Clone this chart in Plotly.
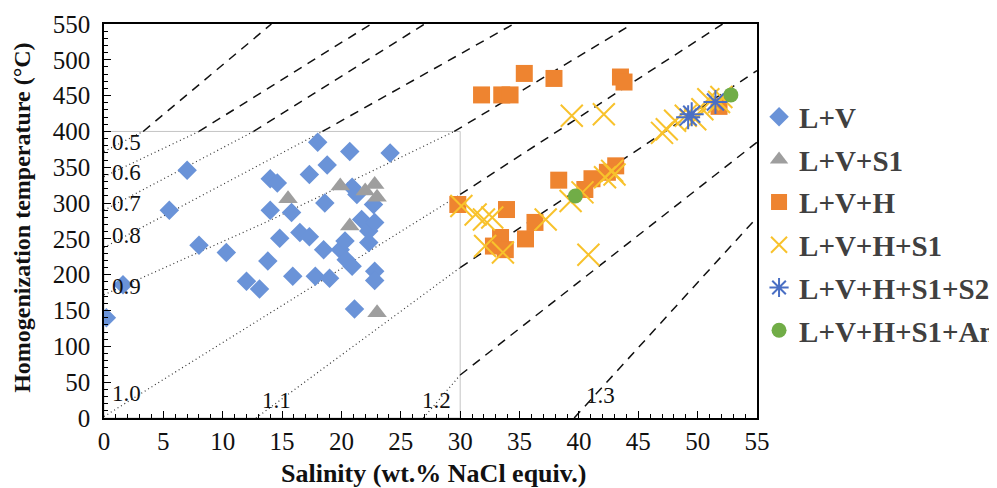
import plotly.graph_objects as go

# ---------------- data ----------------
# Density (g/cm3) lines: dotted part inside the 0-30 wt% / 0-400 °C box
density_labels = ["0.5", "0.6", "0.7", "0.8", "0.9", "1.0", "1.1", "1.2", "1.3"]
inner_sal = [[0, 3.3], [0, 8.0], [0, 12.6], [0, 18.4], [0, 14, 29.5], [0, 30], [12.8, 30], [26.9, 30], []]
inner_temp = [[372, 400], [337, 400], [290, 400], [238, 400], [172, 276, 400], [2, 312], [0, 210], [0, 60], []]
# dashed extension outside the box
outer_sal = [[3.3, 14.1], [8.0, 22.5], [12.6, 27.0], [18.4, 34.5], [29.5, 44.5], [30, 52.1], [30, 55], [30, 55], [39.6, 55]]
outer_temp = [[400, 550], [400, 550], [400, 550], [400, 550], [400, 550], [312, 550], [210, 485], [60, 385], [0, 280]]
label_sal = [1.9, 1.9, 1.9, 1.9, 1.9, 1.9, 14.5, 28.0, 41.8]
label_temp = [384, 343, 300, 255, 183, 34, 25, 25, 31]

# Fluid inclusion types
lv_sal = [0.2, 1.6, 5.5, 7.0, 8.0, 10.3, 12.0, 13.1, 13.8, 14.0, 14.0, 14.6, 14.8, 15.8, 15.9,
          16.5, 17.3, 17.3, 17.8, 18.0, 18.5, 18.6, 18.8, 19.0, 19.9, 20.3, 20.4, 20.7, 20.9,
          20.9, 21.1, 21.3, 21.7, 22.3, 22.3, 22.7, 22.8, 22.8, 22.8, 24.1]
lv_temp = [140, 186, 290, 346, 241, 231, 191, 180, 219, 290, 334, 328, 251, 287, 198,
           259, 253, 340, 198, 385, 235, 300, 353, 195, 235, 247, 221, 372, 212,
           322, 152, 312, 277, 261, 245, 298, 273, 205, 192, 370]
lvs_sal = [15.5, 19.9, 20.7, 22.0, 22.8, 23.0, 23.0]
lvs_temp = [306, 324, 268, 317, 326, 308, 147]
lvh_sal = [29.8, 31.8, 33.5, 34.2, 35.4, 37.9, 43.5, 43.8, 33.9, 38.3, 41.1, 40.5, 43.1, 42.4,
           36.3, 33.4, 32.8, 33.8, 35.5, 51.8]
lvh_temp = [298, 451, 451, 451, 481, 474, 476, 469, 291, 332, 334, 319, 352, 343,
            273, 252, 240, 235, 250, 435]
lvhs_sal = [30.1, 31.3, 32.0, 32.7, 32.1, 33.6, 37.2, 39.4, 42.1, 39.3, 40.3, 40.8, 42.2, 42.8,
            43.0, 47.0, 47.4, 48.1, 49.0, 49.8, 50.9, 51.8, 50.4, 52.0]
lvhs_temp = [296, 284, 277, 280, 240, 231, 277, 422, 424, 303, 315, 228, 336, 345,
             340, 398, 403, 415, 422, 417, 445, 441, 431, 448]
lvhss_sal = [49.2, 49.5, 51.5]
lvhss_temp = [420, 424, 441]
lvhsa_sal = [39.7, 52.8]
lvhsa_temp = [310, 451]

series_names = ["L+V", "L+V+S1", "L+V+H", "L+V+H+S1", "L+V+H+S1+S2", "L+V+H+S1+An"]

SERIF = "Liberation Serif, Times New Roman, serif"

fig = go.Figure()

# density lines
for i in range(len(density_labels)):
    if inner_sal[i]:
        fig.add_trace(go.Scatter(x=inner_sal[i], y=inner_temp[i], mode="lines",
                                 line=dict(color="#333333", width=1.2, dash="1px,3px"),
                                 showlegend=False, hoverinfo="skip"))
    fig.add_trace(go.Scatter(x=outer_sal[i], y=outer_temp[i], mode="lines",
                             line=dict(color="#111111", width=1.5, dash="9px,7px"),
                             showlegend=False, hoverinfo="skip"))

marker_styles = [
    dict(symbol="diamond", size=15, color="#6A93D8"),
    dict(symbol="triangle-up", size=17, color="#9E9E9E"),
    dict(symbol="square", size=17, color="#EE8430"),
    dict(symbol="x-thin", size=22, color="#F8C22C", line=dict(width=2, color="#F8C22C")),
    dict(symbol="asterisk", size=20, color="#4A6FC4", line=dict(width=2, color="#4A6FC4")),
    dict(symbol="circle", size=15, color="#71AD47"),
]
xs = [lv_sal, lvs_sal, lvh_sal, lvhs_sal, lvhss_sal, lvhsa_sal]
ys = [lv_temp, lvs_temp, lvh_temp, lvhs_temp, lvhss_temp, lvhsa_temp]
for k in range(6):
    fig.add_trace(go.Scatter(x=xs[k], y=ys[k], mode="markers", name=series_names[k],
                             marker=marker_styles[k], legendgroup=series_names[k]))

# box of the inner density diagram
fig.add_shape(type="rect", x0=0, x1=30, y0=0, y1=400, xref="x", yref="y",
              line=dict(color="#C4C4C4", width=1), layer="below")

for i, lab in enumerate(density_labels):
    fig.add_annotation(x=label_sal[i], y=label_temp[i], text=lab, showarrow=False,
                       font=dict(family=SERIF, size=23, color="#111111"),
                       xanchor="center", yanchor="middle")

fig.add_annotation(x=0.5, y=-0.14, xref="paper", yref="paper",
                   text="<b>Salinity (wt.% NaCl equiv.)</b>", showarrow=False,
                   font=dict(family=SERIF, size=26, color="#111111"),
                   xanchor="center", yanchor="middle", xshift=3)
fig.add_annotation(x=-0.125, y=0.509, xref="paper", yref="paper",
                   text="<b>Homogenization temperature (°C)</b>", showarrow=False,
                   textangle=-90, font=dict(family=SERIF, size=24, color="#111111"),
                   xanchor="center", yanchor="middle")

axis_common = dict(showgrid=False, zeroline=False, showline=True, linecolor="black",
                   linewidth=1.5, mirror=True, ticks="inside", ticklen=7, tickwidth=1.2,
                   automargin=False,
                   tickcolor="black", tickfont=dict(family=SERIF, size=25, color="#111111"))
fig.update_xaxes(range=[0, 55], dtick=5, tick0=0,
                 minor=dict(dtick=1, ticks="inside", ticklen=4, tickcolor="black"),
                 **axis_common)
fig.update_yaxes(range=[0, 550], dtick=50, tick0=0, ticklabelstandoff=7,
                 minor=dict(dtick=10, ticks="inside", ticklen=4, tickcolor="black"),
                 **axis_common)

# the page adds an 8 px body margin, so the figure is sized 8 px smaller
fig.update_layout(
    width=989, height=480,
    margin=dict(l=96, r=240, t=16, b=70, autoexpand=False),
    paper_bgcolor="white", plot_bgcolor="white",
    legend=dict(xref="container", x=0.7594, y=0.829, xanchor="left", yanchor="top",
                font=dict(family=SERIF, size=29, color="#404040", weight="bold"),
                tracegroupgap=2, bgcolor="rgba(0,0,0,0)"),
    showlegend=True,
)

fig.write_html("out.html")
